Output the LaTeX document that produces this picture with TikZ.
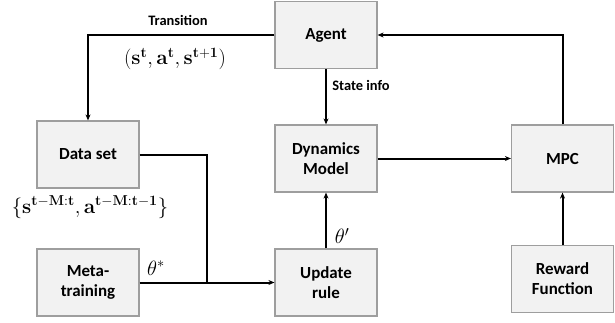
\documentclass[tikz,border=0pt]{standalone}
\usepackage[no-math]{fontspec}
\setmainfont{Carlito}
\usetikzlibrary{arrows.meta}
\begin{document}
\begin{tikzpicture}[x=1bp,y=-1bp,
  blk/.style={draw=black!38,fill=black!5,line width=1.2bp,minimum width=102bp,minimum height=67bp,align=center,inner sep=0pt,font=\fontsize{17}{20}\selectfont\bfseries},
  conn/.style={line width=2bp,-{Stealth[length=6bp,width=5bp]}},
  plain/.style={line width=2bp},
  lbl/.style={font=\fontsize{14.5}{16}\selectfont\bfseries,inner sep=0pt},
  mlbl/.style={font=\fontsize{22}{24}\selectfont,inner sep=0pt}]
\useasboundingbox (0,0) rectangle (615,322);
\node[blk] (agent) at (326,35) {Agent};
\node[blk] (data) at (88,154.5) {Data set};
\node[blk] (meta) at (88,282.5) {Meta-\\training};
\node[blk] (dyn) at (326,158.5) {Dynamics\\Model};
\node[blk] (upd) at (326,282.5) {Update\\rule};
\node[blk] (mpc) at (562.5,158.5) {MPC};
\node[blk] (rew) at (562.5,279) {Reward\\Function};
\coordinate (j) at (207,282.5);
\draw[conn] (agent.west) -| (data.north);
\draw[conn] (mpc.north) |- (agent.east);
\draw[conn] (agent.south) -- (dyn.north);
\draw[plain] (data.east) -| (j);
\draw[conn] (meta.east) -- (upd.west);
\draw[conn] (upd.north) -- (dyn.south);
\draw[conn] (dyn.east) -- (mpc.west);
\draw[conn] (rew.north) -- (mpc.south);
\node[lbl] (ltrans) at (178,20) {Transition};
\node[mlbl] (ltuple) at (175,59) {$(\mathbf{s^t},\mathbf{a^t},\mathbf{s^{t+1}})$};
\node[lbl] (lstate) at (361,85) {State info};
\node[mlbl] (lset) at (90,207) {$\{\mathbf{s^{t-M:t}},\mathbf{a^{t-M:t-1}}\}$};
\node[mlbl] (ltstar) at (156,268) {$\theta^*$};
\node[mlbl] (ltp) at (342,236) {$\theta'$};
\end{tikzpicture}
\end{document}
